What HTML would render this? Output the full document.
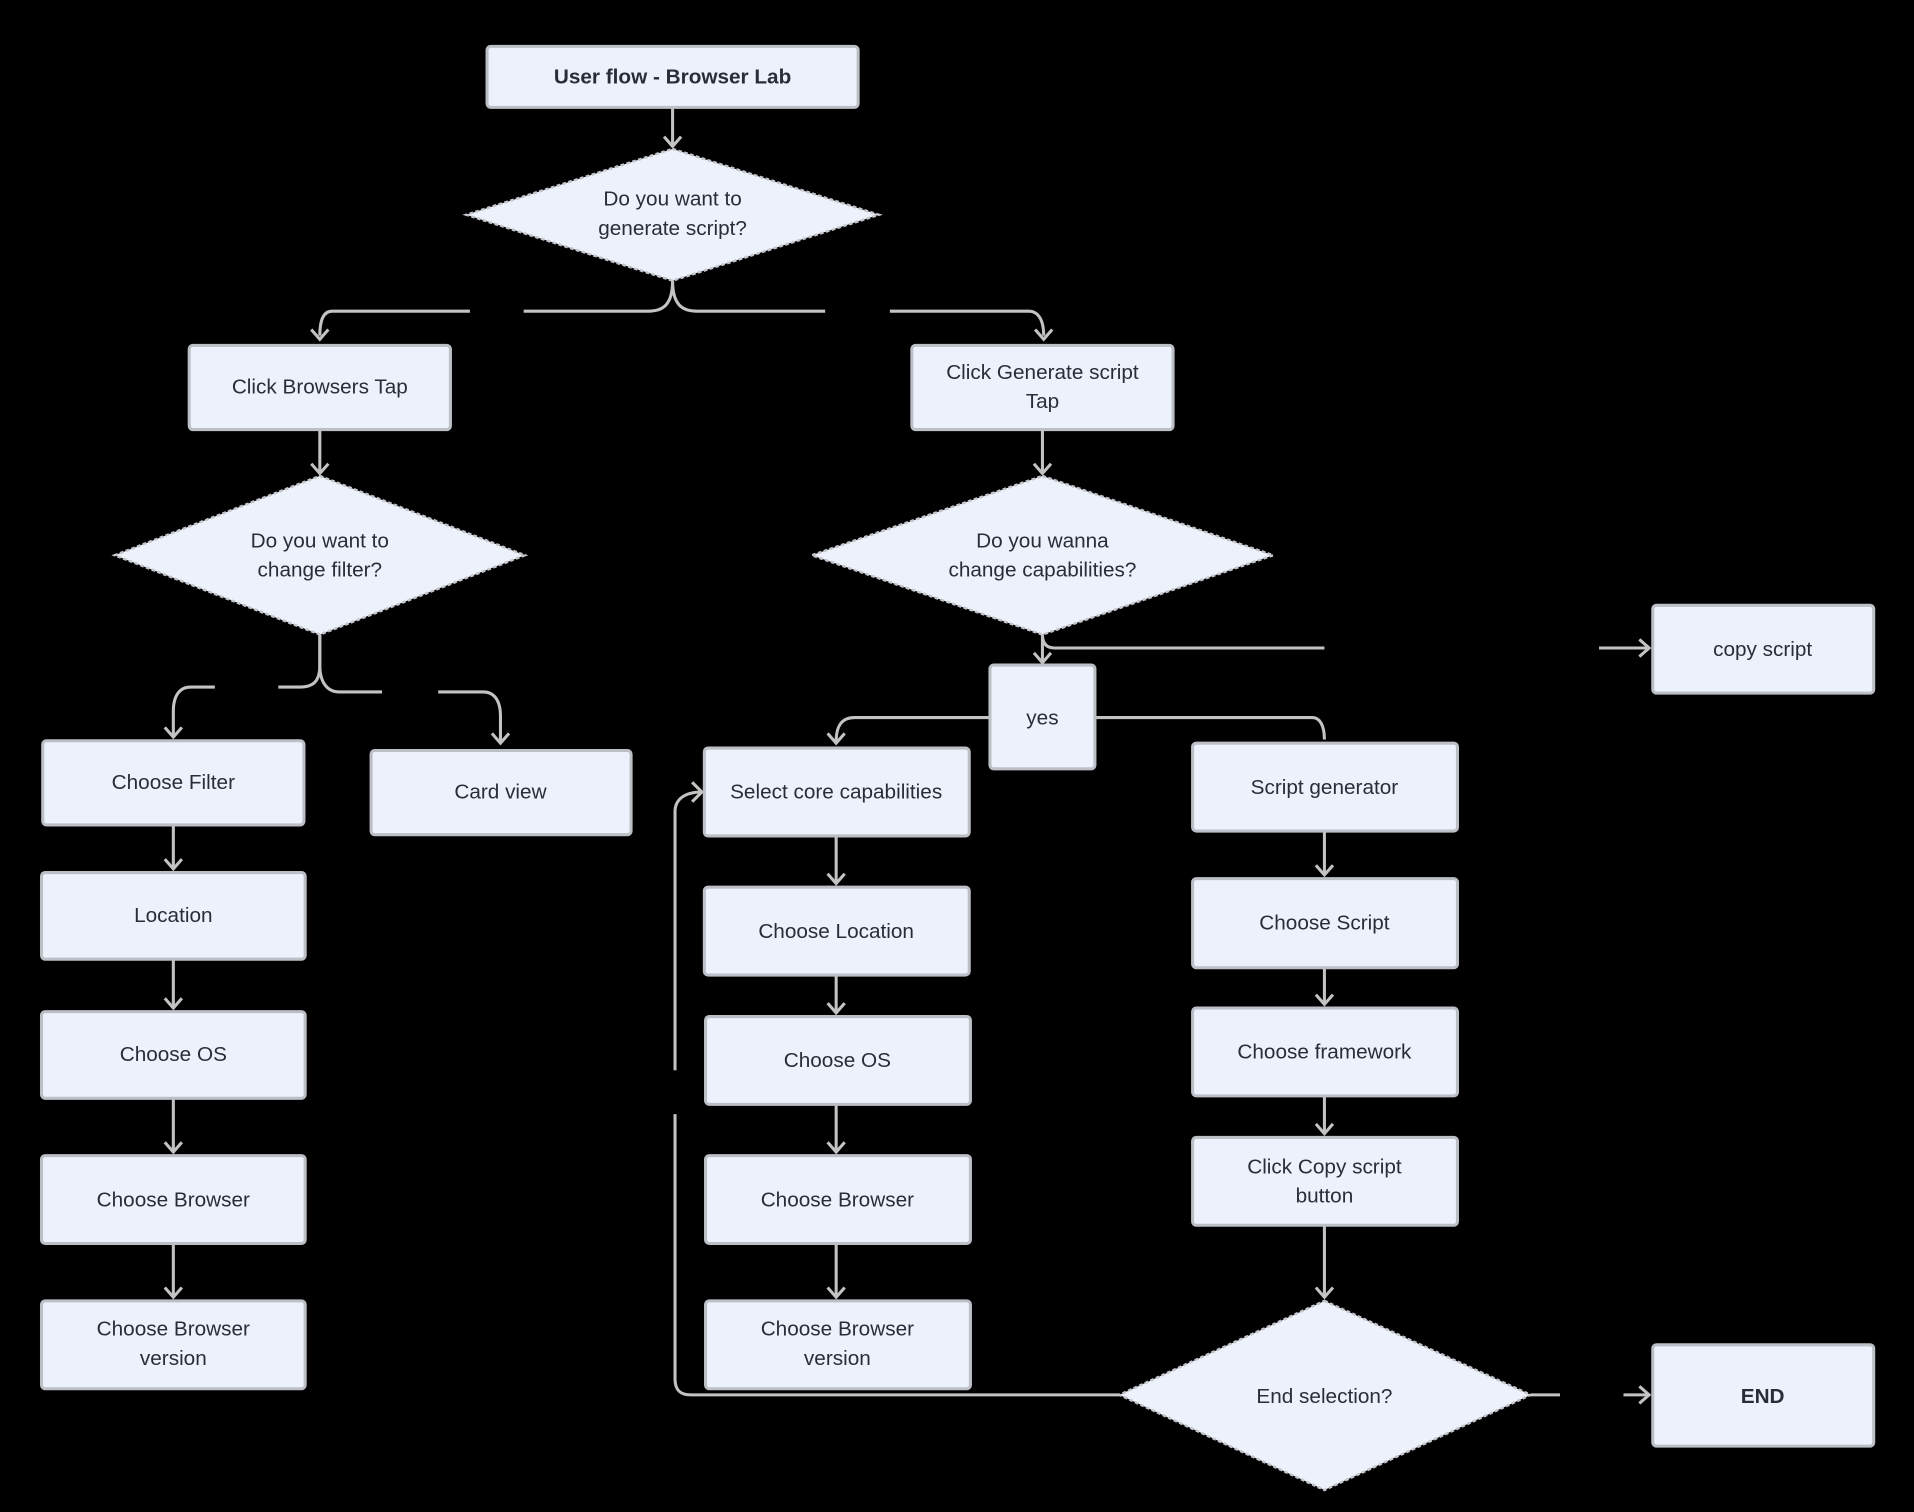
<!DOCTYPE html>
<html><head><meta charset="utf-8"><style>
html,body{margin:0;padding:0;background:#000;}
svg{display:block;}
text{font-family:"Liberation Sans",sans-serif;font-size:17px;fill:#2a2d35;text-anchor:middle;dominant-baseline:middle;}
.b{fill:#edf1fb;stroke:#bcbfc6;stroke-width:2.5;}
.d{fill:#edf1fb;stroke:#c4c6cc;stroke-width:2;stroke-dasharray:3 2;}
.l{fill:none;stroke:#c3c3c3;stroke-width:2.5;}
</style></head><body>
<svg width="1914" height="1512" viewBox="0 0 1568 1239" preserveAspectRatio="none" xmlns="http://www.w3.org/2000/svg">
<rect width="1568" height="1239" fill="#000"/>
<!-- connectors -->
<g class="l">
<path d="M551 88V120"/><path d="M544 112l7 8 7-8"/>
<path d="M551 230c0 20-8 25-20 25H429"/><path d="M385 255H272c-6 0-10 5-10 20"/><path d="M255 270l7 8 7-8"/>
<path d="M551 230c0 20 8 25 20 25H676"/><path d="M729 255H843c6 0 12 5 12 20"/><path d="M848 270l7 8 7-8"/>
<path d="M262 352V388"/><path d="M255 380l7 8 7-8"/>
<path d="M854 352V388"/><path d="M847 380l7 8 7-8"/>
<path d="M262 520v25c0 14-6 18-16 18H228"/><path d="M176 563H156c-8 0-14 6-14 20v20"/><path d="M135 596l7 8 7-8"/>
<path d="M262 520v25c0 14 6 22 16 22H313"/><path d="M359 567H396c8 0 14 6 14 20v22"/><path d="M403 601l7 8 7-8"/>
<path d="M142 676V712"/><path d="M135 704l7 8 7-8"/>
<path d="M142 786V826"/><path d="M135 818l7 8 7-8"/>
<path d="M142 900V944"/><path d="M135 936l7 8 7-8"/>
<path d="M142 1019V1063"/><path d="M135 1055l7 8 7-8"/>
<path d="M854 520V543"/><path d="M847 535l7 8 7-8"/>
<path d="M854 520c0 8 4 11 10 11H1085"/><path d="M1310 531H1351"/><path d="M1343 524l8 7-8 7"/>
<path d="M811 588H700c-10 0-15 6-15 20"/><path d="M678 601l7 8 7-8"/>
<path d="M897 588H1075c6 0 10 6 10 18"/>
<path d="M685 685V724"/><path d="M678 716l7 8 7-8"/>
<path d="M685 799V830"/><path d="M678 822l7 8 7-8"/>
<path d="M685 905V944"/><path d="M678 936l7 8 7-8"/>
<path d="M685 1019V1063"/><path d="M678 1055l7 8 7-8"/>
<path d="M1085 681V717"/><path d="M1078 709l7 8 7-8"/>
<path d="M1085 793V823"/><path d="M1078 815l7 8 7-8"/>
<path d="M1085 898V929"/><path d="M1078 921l7 8 7-8"/>
<path d="M1085 1004V1063"/><path d="M1078 1055l7 8 7-8"/>
<path d="M917 1143H566c-9 0-13-4-13-13V913"/><path d="M553 877V665c0-10 8-16 22-16"/><path d="M567 641l8 8-8 8"/>
<path d="M1254 1143H1278"/><path d="M1330 1143H1351"/><path d="M1343 1136l8 7-8 7"/>
</g>
<!-- nodes -->
<rect class="b" x="399" y="38" width="304" height="50" rx="3"/>
<text x="551" y="64" style="font-weight:bold">User flow - Browser Lab</text>
<polygon class="d" points="551,122 720,176 551,230 382,176"/>
<text x="551" y="164">Do you want  to</text><text x="551" y="188">generate script?</text>
<rect class="b" x="155" y="283" width="214" height="69" rx="3"/><text x="262" y="318">Click Browsers Tap</text>
<rect class="b" x="747" y="283" width="214" height="69" rx="3"/><text x="854" y="306">Click Generate script</text><text x="854" y="330">Tap</text>
<polygon class="d" points="262,390 430,455 262,520 94,455"/>
<text x="262" y="444">Do you want to</text><text x="262" y="468">change filter?</text>
<polygon class="d" points="854,390 1043,455 854,520 665,455"/>
<text x="854" y="444">Do you wanna</text><text x="854" y="468">change capabilities?</text>
<rect class="b" x="35" y="607" width="214" height="69" rx="3"/><text x="142" y="642">Choose Filter</text>
<rect class="b" x="304" y="615" width="213" height="69" rx="3"/><text x="410" y="650">Card view</text>
<rect class="b" x="34" y="715" width="216" height="71" rx="3"/><text x="142" y="751">Location</text>
<rect class="b" x="34" y="829" width="216" height="71" rx="3"/><text x="142" y="865">Choose OS</text>
<rect class="b" x="34" y="947" width="216" height="72" rx="3"/><text x="142" y="984">Choose Browser</text>
<rect class="b" x="34" y="1066" width="216" height="72" rx="3"/><text x="142" y="1090">Choose Browser</text><text x="142" y="1114">version</text>
<rect class="b" x="811" y="545" width="86" height="85" rx="3"/><text x="854" y="589">yes</text>
<rect class="b" x="1354" y="496" width="181" height="72" rx="3"/><text x="1444" y="533">copy script</text>
<rect class="b" x="577" y="613" width="217" height="72" rx="3"/><text x="685" y="650">Select core capabilities</text>
<rect class="b" x="577" y="727" width="217" height="72" rx="3"/><text x="685" y="764">Choose Location</text>
<rect class="b" x="578" y="833" width="217" height="72" rx="3"/><text x="686" y="870">Choose OS</text>
<rect class="b" x="578" y="947" width="217" height="72" rx="3"/><text x="686" y="984">Choose Browser</text>
<rect class="b" x="578" y="1066" width="217" height="72" rx="3"/><text x="686" y="1090">Choose Browser</text><text x="686" y="1114">version</text>
<rect class="b" x="977" y="609" width="217" height="72" rx="3"/><text x="1085" y="646">Script generator</text>
<rect class="b" x="977" y="720" width="217" height="73" rx="3"/><text x="1085" y="757">Choose Script</text>
<rect class="b" x="977" y="826" width="217" height="72" rx="3"/><text x="1085" y="863">Choose framework</text>
<rect class="b" x="977" y="932" width="217" height="72" rx="3"/><text x="1085" y="957">Click Copy script</text><text x="1085" y="981">button</text>
<polygon class="d" points="1085,1066 1254,1143 1085,1221 917,1143"/>
<text x="1085" y="1145">End selection?</text>
<rect class="b" x="1354" y="1102" width="181" height="83" rx="3"/><text x="1444" y="1145" style="font-weight:bold">END</text>
</svg>
</body></html>
